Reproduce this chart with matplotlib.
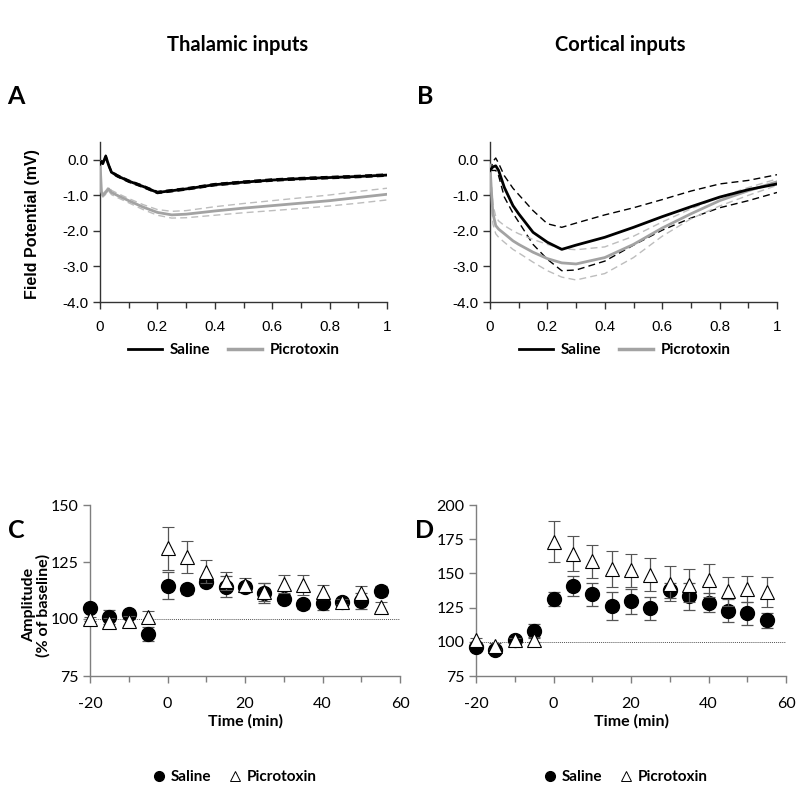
import matplotlib.pyplot as plt
from matplotlib.lines import Line2D
from matplotlib.ticker import MultipleLocator

plt.rcParams['axes.unicode_minus'] = False

# --- field potential traces (s) ---
t_a = [0, 0.005, 0.01, 0.02, 0.03, 0.04, 0.06, 0.1, 0.15, 0.2, 0.25, 0.3, 0.4, 0.5, 0.6, 0.7, 0.8, 0.9, 1.0]
sal_a = [-0.12, -0.05, -0.1, 0.1, -0.15, -0.35, -0.45, -0.6, -0.75, -0.92, -0.87, -0.82, -0.7, -0.63, -0.57, -0.53, -0.5, -0.47, -0.43]
sal_a_up = [-0.1, -0.02, -0.07, 0.13, -0.12, -0.32, -0.42, -0.57, -0.72, -0.89, -0.84, -0.79, -0.67, -0.6, -0.54, -0.5, -0.47, -0.44, -0.4]
sal_a_lo = [-0.14, -0.08, -0.13, 0.07, -0.18, -0.38, -0.48, -0.63, -0.78, -0.95, -0.9, -0.85, -0.73, -0.66, -0.6, -0.56, -0.53, -0.5, -0.46]
pic_a = [-0.05, -0.9, -1.0, -0.92, -0.82, -0.92, -1.0, -1.15, -1.33, -1.48, -1.55, -1.53, -1.44, -1.36, -1.29, -1.22, -1.15, -1.06, -0.97]
pic_a_up = [-0.05, -0.85, -0.95, -0.87, -0.76, -0.86, -0.94, -1.09, -1.26, -1.4, -1.45, -1.43, -1.32, -1.23, -1.15, -1.07, -0.99, -0.89, -0.8]
pic_a_lo = [-0.05, -0.95, -1.05, -0.97, -0.88, -0.98, -1.06, -1.21, -1.4, -1.56, -1.64, -1.63, -1.56, -1.49, -1.43, -1.37, -1.3, -1.22, -1.13]

t_b = [0, 0.005, 0.01, 0.02, 0.03, 0.05, 0.08, 0.1, 0.15, 0.2, 0.25, 0.3, 0.4, 0.5, 0.6, 0.7, 0.8, 0.9, 1.0]
sal_b = [-0.3, -0.25, -0.2, -0.17, -0.3, -0.78, -1.29, -1.52, -2.04, -2.32, -2.52, -2.4, -2.18, -1.9, -1.6, -1.32, -1.05, -0.84, -0.68]
sal_b_up = [-0.3, -0.2, -0.05, 0.05, -0.1, -0.45, -0.8, -0.98, -1.43, -1.8, -1.9, -1.78, -1.55, -1.35, -1.12, -0.88, -0.68, -0.58, -0.42]
sal_b_lo = [-0.3, -0.3, -0.3, -0.3, -0.45, -1.05, -1.5, -1.75, -2.38, -2.8, -3.12, -3.1, -2.85, -2.4, -1.98, -1.64, -1.35, -1.15, -0.92]
pic_b = [-0.15, -0.9, -1.5, -1.85, -1.95, -2.08, -2.28, -2.38, -2.6, -2.78, -2.9, -2.93, -2.75, -2.38, -1.92, -1.52, -1.15, -0.87, -0.62]
pic_b_up = [-0.15, -0.7, -1.24, -1.6, -1.72, -1.85, -2.0, -2.08, -2.24, -2.38, -2.5, -2.53, -2.45, -2.15, -1.75, -1.38, -1.05, -0.78, -0.54]
pic_b_lo = [-0.15, -1.1, -1.8, -2.08, -2.18, -2.32, -2.52, -2.62, -2.88, -3.12, -3.3, -3.38, -3.2, -2.75, -2.15, -1.66, -1.3, -1.0, -0.72]

# --- amplitude time courses (min, % of baseline) ---
time_min = [-20, -15, -10, -5, 0, 5, 10, 15, 20, 25, 30, 35, 40, 45, 50, 55]
sal_c = [105, 101, 102, 93.4, 114.6, 113, 116.4, 114.2, 114, 111.5, 108.8, 106.4, 106.9, 107.5, 108, 112.3]
sal_c_err = [1, 3, 2, 3, 6, 2, 2, 4.5, 2, 4.5, 2, 2, 3, 1, 3.5, 2]
pic_c = [100, 98.5, 99.3, 101, 131, 127, 120.8, 116.8, 115, 112, 115.4, 115, 111.8, 107.6, 111.3, 105.4]
pic_c_err = [1, 2, 2, 2.5, 9.5, 7, 5, 4, 3, 4, 4, 4.5, 3, 1, 3, 2]

sal_d = [96, 94, 101, 107.8, 131.3, 140.8, 134.7, 126.2, 129.6, 124.4, 137.6, 133.3, 128.6, 122.7, 120.9, 115.9]
sal_d_err = [2, 2, 2, 5, 5, 7.5, 8.5, 10.5, 9, 8.5, 5.5, 10, 7, 8.5, 8.5, 5.5]
pic_d = [101, 97, 101, 101.5, 173, 164.5, 159, 153.4, 152.3, 149, 142.5, 141.3, 145, 137, 138.8, 136.4]
pic_d_err = [2, 2, 2, 2, 15, 12.5, 12, 13, 12, 12, 13, 12, 12, 10.5, 9.5, 11]

W, H = 800, 794
fig = plt.figure(figsize=(W / 100, H / 100), dpi=100)

cal = ['Lato', 'DejaVu Sans']
ari = ['Liberation Sans', 'DejaVu Sans']
GRAY = '#a3a3a3'
LGRAY = '#bdbdbd'
AXC = '#7f7f7f'


def px_axes(x0, y0, x1, y1):
    return fig.add_axes([x0 / W, 1 - y1 / H, (x1 - x0) / W, (y1 - y0) / H])


def style(ax, color, font, size):
    for s in ['top', 'right']:
        ax.spines[s].set_visible(False)
    for s in ['left', 'bottom']:
        ax.spines[s].set_color(color)
        ax.spines[s].set_linewidth(1.0)
    ax.tick_params(which='both', direction='out', color=color, width=1.0,
                   labelfontfamily=font, labelsize=size)
    ax.tick_params(which='major', length=5)
    ax.tick_params(which='minor', length=4)


def trace_panel(ax, t_s, s, s_up, s_lo, t_p, p, p_up, p_lo):
    ax.plot(t_s, s_up, color='black', lw=1.0, ls=(0, (5, 3)), zorder=2)
    ax.plot(t_s, s_lo, color='black', lw=1.0, ls=(0, (5, 3)), zorder=2)
    ax.plot(t_p, p_up, color=LGRAY, lw=1.0, ls=(0, (5, 3)), zorder=2)
    ax.plot(t_p, p_lo, color=LGRAY, lw=1.0, ls=(0, (5, 3)), zorder=2)
    ax.plot(t_p, p, color=GRAY, lw=2.0, zorder=3)
    ax.plot(t_s, s, color='black', lw=2.0, zorder=4)
    ax.set_xlim(0, 1)
    ax.set_ylim(-4, 0.5)
    ax.set_xticks([0, 0.2, 0.4, 0.6, 0.8, 1.0])
    ax.set_xticklabels(['0', '0.2', '0.4', '0.6', '0.8', '1'])
    ax.xaxis.set_minor_locator(MultipleLocator(0.1))
    ax.set_yticks([-4, -3, -2, -1, 0])
    ax.set_yticklabels(['-4.0', '-3.0', '-2.0', '-1.0', '0.0'])
    style(ax, '#333333', ari, 11)
    ax.tick_params(axis='x', pad=8)
    ax.tick_params(axis='y', pad=3)


def amp_panel(ax, sal, sal_err, pic, pic_err, ymax):
    ax.axhline(100, color='#555555', lw=0.7, ls=(0, (1, 1)), zorder=1)
    ax.errorbar(time_min, sal, yerr=sal_err, fmt='o', ms=10, color='black',
                ecolor='#555555', elinewidth=0.9, capsize=4, capthick=0.9, zorder=3, clip_on=False)
    ax.errorbar(time_min, pic, yerr=pic_err, fmt='^', ms=10, mfc='white', mec='black',
                mew=0.8, ecolor='#555555', elinewidth=0.9, capsize=4, capthick=0.9, zorder=4,
                clip_on=False)
    ax.set_xlim(-20, 60)
    ax.set_ylim(75, ymax)
    ax.set_xticks([-20, 0, 20, 40, 60])
    ax.xaxis.set_minor_locator(MultipleLocator(10))
    ax.yaxis.set_major_locator(MultipleLocator(25))
    style(ax, AXC, cal, 11.5)
    ax.tick_params(axis='x', pad=10)
    ax.set_xlabel('Time (min)', family=cal, fontweight='bold', fontsize=11.5, labelpad=2)


axA = px_axes(100, 142, 387, 302)
trace_panel(axA, t_a, sal_a, sal_a_up, sal_a_lo, t_a, pic_a, pic_a_up, pic_a_lo)
axA.set_ylabel('Field Potential (mV)', family=ari, fontweight='bold', fontsize=11.5)
axA.yaxis.set_label_coords(-60 / 287, (302 - 224) / 160)

axB = px_axes(490, 142, 777, 302)
trace_panel(axB, t_b, sal_b, sal_b_up, sal_b_lo, t_b, pic_b, pic_b_up, pic_b_lo)

axC = px_axes(90, 505, 400, 676)
amp_panel(axC, sal_c, sal_c_err, pic_c, pic_c_err, 150)
axC.set_ylabel('Amplitude\n(% of baseline)', family=cal, fontweight='bold', fontsize=11.5,
               linespacing=1.05)
axC.yaxis.set_label_coords(-39 / 310, (676 - 605) / 171)

axD = px_axes(476, 505, 786, 676)
amp_panel(axD, sal_d, sal_d_err, pic_d, pic_d_err, 200)

# titles and panel letters
fig.text(238 / W, 1 - 45 / H, 'Thalamic inputs', family=cal, fontweight='bold', fontsize=14.5,
         ha='center', va='center')
fig.text(620 / W, 1 - 45 / H, 'Cortical inputs', family=cal, fontweight='bold', fontsize=14.5,
         ha='center', va='center')
for lbl, x, y in [('A', 16, 97), ('B', 425, 97), ('C', 16, 530), ('D', 425, 530)]:
    fig.text(x / W, 1 - y / H, lbl, family=cal, fontweight='bold', fontsize=18,
             ha='center', va='center')

# legends
line_handles = [Line2D([], [], color='black', lw=2.0), Line2D([], [], color=GRAY, lw=2.5)]
mark_handles = [Line2D([], [], ls='', marker='o', ms=7, color='black'),
                Line2D([], [], ls='', marker='^', ms=7, mfc='white', mec='black', mew=0.7)]
for cx in [234, 625]:
    fig.legend(line_handles, ['Saline', 'Picrotoxin'], loc='center', ncol=2,
               bbox_to_anchor=(cx / W, 1 - 350 / H), frameon=False, handlelength=2.2,
               handletextpad=0.5, columnspacing=1.2, prop={'family': cal, 'weight': 'bold', 'size': 11})
    fig.legend(mark_handles, ['Saline', 'Picrotoxin'], loc='center', ncol=2,
               bbox_to_anchor=(cx / W, 1 - 777 / H), frameon=False, handlelength=1.0,
               handletextpad=0.3, columnspacing=1.0, prop={'family': cal, 'weight': 'bold', 'size': 11})

fig.savefig('out.png', dpi=100)
